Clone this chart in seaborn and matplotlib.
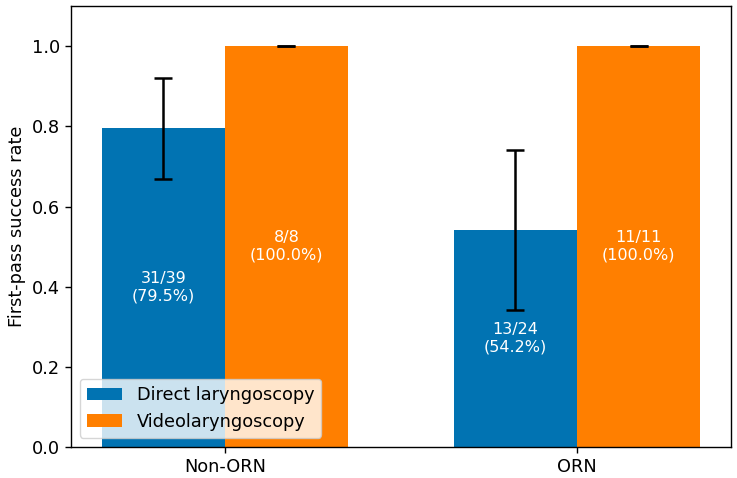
import numpy as np
import pandas as pd
import matplotlib
matplotlib.use("Agg")
import matplotlib.pyplot as plt
import seaborn as sns

groups = ["Non-ORN", "ORN"]
methods = ["Direct laryngoscopy", "Videolaryngoscopy"]
successes = {"Direct laryngoscopy": [31, 13], "Videolaryngoscopy": [8, 11]}
totals = {"Direct laryngoscopy": [39, 24], "Videolaryngoscopy": [8, 11]}
# half-width of the error bars
err_half = {"Direct laryngoscopy": [0.127, 0.199], "Videolaryngoscopy": [0.0, 0.0]}
colors = ["#0173B2", "#FF7F00"]

rows = []
for m in methods:
    for g, k, n, e in zip(groups, successes[m], totals[m], err_half[m]):
        rows.append({"group": g, "method": m, "k": k, "n": n,
                     "rate": k / n, "err": e})
df = pd.DataFrame(rows)

plt.rc('font', size=12.8)
plt.rc('axes', linewidth=1.0)
plt.rc('xtick.major', width=1.0, size=4.2)
plt.rc('ytick.major', width=1.0, size=4.2)

fig, ax = plt.subplots(figsize=(7.37, 4.78), dpi=100)
fig.subplots_adjust(left=0.096, right=0.992, top=0.987, bottom=0.065)

sns.barplot(data=df, x="group", y="rate", hue="method", order=groups,
            hue_order=methods, palette=colors, saturation=1, width=0.7,
            errorbar=None, ax=ax)

for cont, m in zip(ax.containers, methods):
    sub = df[df.method == m].set_index("group").loc[groups]
    for bar, (_, r) in zip(cont, sub.iterrows()):
        xc = bar.get_x() + bar.get_width() / 2
        ax.errorbar(xc, r.rate, yerr=r.err, color="black", capsize=6.5,
                    elinewidth=1.8, capthick=1.8, fmt="none")
        ax.text(xc, r.rate / 2, f"{r.k}/{r.n}\n({r.rate * 100:.1f}%)",
                ha="center", va="center", color="white", fontsize=11.5)

ax.set_xlim(-0.4375, 1.4375)
ax.set_ylim(0, 1.1)
ax.set_xlabel("")
ax.set_ylabel("First-pass success rate")
ax.legend(loc="lower left", fontsize=12.8)

fig.savefig("out.png", dpi=100)
